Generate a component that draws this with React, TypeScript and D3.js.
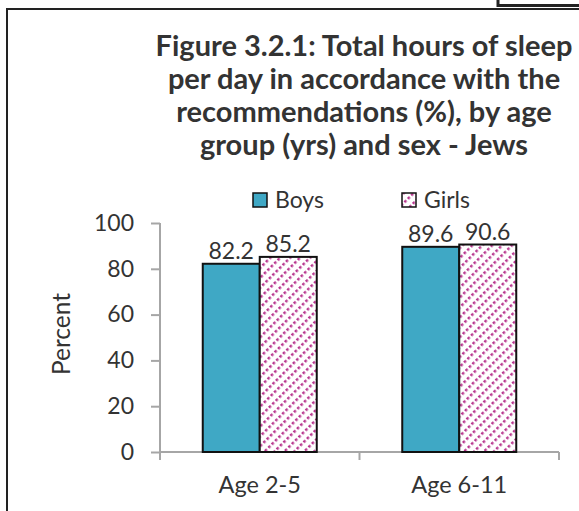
import * as d3 from 'd3';
import { useEffect, useRef } from 'react';

const categories = ['Age 2-5', 'Age 6-11'];
const series = ['Boys', 'Girls'];
const boysValues = [82.2, 89.6];
const girlsValues = [85.2, 90.6];
const yTicks = [0, 20, 40, 60, 80, 100];
const titleLines = [
  'Figure 3.2.1: Total hours of sleep',
  'per day in accordance with the',
  'recommendations (%), by age',
  'group (yrs) and sex - Jews',
];

const FONT = 'Lato, "Open Sans", sans-serif';
const TEXT = '#333333';
const AXIS = '#a6a6a6';
const BLUE = '#3fa8c5';
const PINK = '#b8378f';

export default function App() {
  const ref = useRef<SVGSVGElement | null>(null);

  useEffect(() => {
    if (!ref.current) return;
    const svg = d3.select(ref.current);
    svg.selectAll('*').remove();

    const width = 579;
    const height = 511;
    svg.attr('width', width).attr('height', height);

    // girls hatch: dotted diagonal lines
    const defs = svg.append('defs');
    const pat = defs
      .append('pattern')
      .attr('id', 'hatch')
      .attr('patternUnits', 'userSpaceOnUse')
      .attr('width', 4.8)
      .attr('height', 7)
      .attr('patternTransform', 'rotate(-45)');
    pat.append('rect').attr('width', 4.8).attr('height', 7).attr('fill', '#fff');
    pat.append('rect').attr('width', 2.6).attr('height', 2.5).attr('fill', PINK);

    // frame
    svg
      .append('rect')
      .attr('x', 7)
      .attr('y', 9)
      .attr('width', 600)
      .attr('height', 600)
      .attr('fill', 'none')
      .attr('stroke', '#222')
      .attr('stroke-width', 2);
    svg
      .append('rect')
      .attr('x', 498)
      .attr('y', -20)
      .attr('width', 100)
      .attr('height', 25.5)
      .attr('fill', '#fff')
      .attr('stroke', '#222')
      .attr('stroke-width', 3);

    // title
    svg
      .append('g')
      .selectAll('text')
      .data(titleLines)
      .join('text')
      .attr('x', 364)
      .attr('y', (_, i) => 56 + i * 33)
      .attr('text-anchor', 'middle')
      .attr('font-family', FONT)
      .attr('font-weight', 'bold')
      .attr('font-size', 29)
      .attr('fill', TEXT)
      .text((d) => d);

    const x0 = d3.scaleBand().domain(categories).range([160, 559]).padding(0);
    const x1 = d3
      .scaleBand()
      .domain(series)
      .range([0, x0.bandwidth()])
      .paddingInner(0)
      .paddingOuter(0.75);
    const y = d3.scaleLinear().domain([0, 100]).range([452, 223]);

    // y axis
    const yAxis = svg
      .append('g')
      .attr('transform', 'translate(160,0)')
      .call(d3.axisLeft(y).tickValues(yTicks).tickSize(9).tickPadding(17));
    yAxis.select('.domain').attr('stroke', AXIS).attr('stroke-width', 2).attr('d', 'M0,223V460');
    yAxis.selectAll('.tick line').attr('stroke', AXIS).attr('stroke-width', 2);
    yAxis
      .selectAll('.tick text')
      .attr('font-family', FONT)
      .attr('font-size', 23)
      .attr('fill', TEXT);

    // x axis
    const xAxis = svg
      .append('g')
      .attr('transform', 'translate(0,452)')
      .call(d3.axisBottom(x0).tickSize(0).tickPadding(24));
    xAxis.select('.domain').attr('stroke', AXIS).attr('stroke-width', 2).attr('d', 'M160,0H559');
    xAxis
      .selectAll('.tick text')
      .attr('font-family', FONT)
      .attr('font-size', 23.5)
      .attr('fill', TEXT);
    const edges = [...categories.map((c) => x0(c)!), x0(categories[categories.length - 1])! + x0.bandwidth()];
    xAxis
      .selectAll('line.edge')
      .data(edges)
      .join('line')
      .attr('class', 'edge')
      .attr('x1', (d) => d)
      .attr('x2', (d) => d)
      .attr('y1', 0)
      .attr('y2', 8)
      .attr('stroke', AXIS)
      .attr('stroke-width', 2);

    // axis title
    svg
      .append('text')
      .attr('transform', 'translate(70,334) rotate(-90)')
      .attr('text-anchor', 'middle')
      .attr('font-family', FONT)
      .attr('font-size', 24.5)
      .attr('fill', TEXT)
      .text('Percent');

    // bars
    const rows = categories.map((c, i) => ({
      cat: c,
      vals: [
        { s: 'Boys', v: boysValues[i] },
        { s: 'Girls', v: girlsValues[i] },
      ],
    }));
    const groups = svg
      .append('g')
      .selectAll('g')
      .data(rows)
      .join('g')
      .attr('transform', (d) => `translate(${x0(d.cat)},0)`);
    groups
      .selectAll('rect')
      .data((d) => d.vals)
      .join('rect')
      .attr('x', (d) => x1(d.s)!)
      .attr('y', (d) => y(d.v))
      .attr('width', x1.bandwidth())
      .attr('height', (d) => y(0) - y(d.v))
      .attr('fill', (d) => (d.s === 'Boys' ? BLUE : 'url(#hatch)'))
      .attr('stroke', '#111')
      .attr('stroke-width', 2);
    groups
      .selectAll('text')
      .data((d) => d.vals)
      .join('text')
      .attr('x', (d) => x1(d.s)! + x1.bandwidth() / 2)
      .attr('y', (d) => y(d.v) - 5)
      .attr('text-anchor', 'middle')
      .attr('font-family', FONT)
      .attr('font-size', 23)
      .attr('fill', TEXT)
      .text((d) => d.v.toFixed(1));

    // legend
    const legendX = [253, 402];
    const legend = svg
      .append('g')
      .selectAll('g')
      .data(series)
      .join('g')
      .attr('transform', (_, i) => `translate(${legendX[i]},193)`);
    legend
      .append('rect')
      .attr('width', 14)
      .attr('height', 14)
      .attr('fill', (d) => (d === 'Boys' ? BLUE : 'url(#hatch)'))
      .attr('stroke', '#111')
      .attr('stroke-width', 1.5);
    legend
      .append('text')
      .attr('x', 22)
      .attr('y', 14.5)
      .attr('font-family', FONT)
      .attr('font-size', 23)
      .attr('fill', TEXT)
      .text((d) => d);
  }, []);

  return <svg ref={ref} style={{ position: 'absolute', left: 0, top: 0 }} />;
}
